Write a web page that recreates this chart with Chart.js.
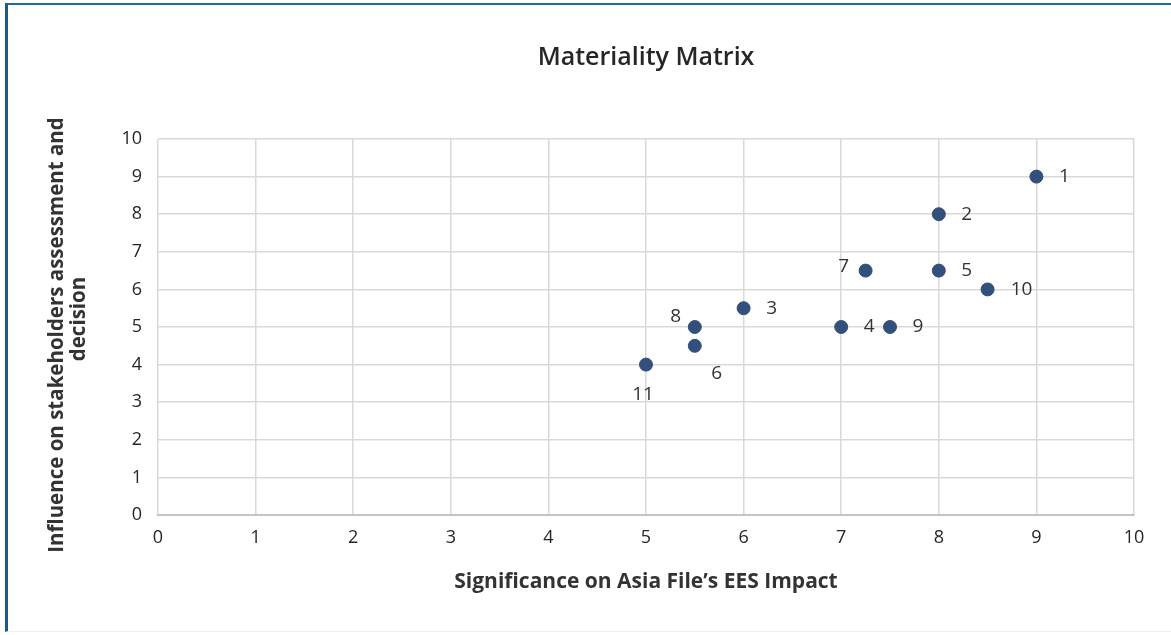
<!DOCTYPE html>
<html>
<head>
<meta charset="utf-8">
<script src="https://cdn.jsdelivr.net/npm/chart.js@4"></script>
<style>
  html, body { margin: 0; padding: 0; background: #fff; }
  #frame {
    position: absolute; left: 5px; top: 3px; width: 1166px; height: 629px;
    border-top: 2px solid #1d6a9c; border-left: 3px solid #1b5a88;
    border-bottom: 1px solid #eeeeee; box-sizing: border-box;
  }
  #wrap { position: absolute; left: 0; top: 0; width: 1171px; height: 635px; }
</style>
</head>
<body>
<div id="frame"></div>
<div id="wrap"><canvas id="chart" width="1171" height="635"></canvas></div>
<script>
// Topic numbers with their scores
const topicLabels = ["1", "2", "3", "4", "5", "6", "7", "8", "9", "10", "11"];
const significance = [9, 8, 6, 7, 8, 5.5, 7.25, 5.5, 7.5, 8.5, 5];
const influence = [9, 8, 5.5, 5, 6.5, 4.5, 6.5, 5, 5, 6, 4];
const tickValues = [0, 1, 2, 3, 4, 5, 6, 7, 8, 9, 10];
const chartTitle = "Materiality Matrix";
const yTitleLines = ["Influence on stakeholders assessment and", "decision"];

// where each number label sits relative to its dot
const labelOffsets = [
  [28, 0], [28, 0], [28, 0], [28, 0], [28, 0], [22, 28],
  [-22, -4], [-19, -10], [28, 0], [34, 0], [-3, 30]
];

const textPlugin = {
  id: "extraText",
  afterDatasetsDraw(chart) {
    const ctx = chart.ctx;
    const meta = chart.getDatasetMeta(0);
    ctx.save();
    ctx.font = "19px 'Open Sans'";
    ctx.fillStyle = "#333333";
    ctx.textAlign = "center";
    ctx.textBaseline = "middle";
    meta.data.forEach((pt, i) => {
      const off = labelOffsets[i];
      ctx.fillText(topicLabels[i], pt.x + off[0], pt.y + off[1]);
    });
    // title centred over the plot area, like the original
    const area = chart.chartArea;
    ctx.font = "600 25px 'Open Sans'";
    ctx.fillStyle = "#262626";
    ctx.fillText(chartTitle, (area.left + area.right) / 2, 58);

    // rotated y axis title, two lines
    ctx.font = "bold 20.5px 'Open Sans'";
    ctx.fillStyle = "#333333";
    ctx.textBaseline = "alphabetic";
    [[63, 335], [85, 319]].forEach((p, i) => {
      ctx.save();
      ctx.translate(p[0], p[1]);
      ctx.rotate(-Math.PI / 2);
      ctx.fillText(yTitleLines[i], 0, 0);
      ctx.restore();
    });
    ctx.restore();
  }
};

const tickFont = { family: "'Open Sans'", size: 18 };

new Chart(document.getElementById("chart"), {
  type: "scatter",
  data: {
    datasets: [{
      data: significance.map((x, i) => ({ x: x, y: influence[i] })),
      backgroundColor: "#334f7c",
      borderColor: "#334f7c",
      pointRadius: 6.5,
      pointHoverRadius: 6.5
    }]
  },
  options: {
    responsive: false,
    animation: false,
    layout: { padding: { left: 0, right: 37, top: 139, bottom: 40 } },
    plugins: {
      legend: { display: false },
      tooltip: { enabled: false },
      title: { display: false }
    },
    scales: {
      x: {
        type: "linear",
        min: 0, max: 10,
        afterBuildTicks: s => { s.ticks = tickValues.map(v => ({ value: v })); },
        afterFit: s => { s.height = 80; },
        ticks: { color: "#262626", font: tickFont, padding: 12 },
        grid: { color: "#d9d9d9", lineWidth: 1.5, drawTicks: false },
        border: { color: "#c4c4c4", width: 2 },
        title: {
          display: true,
          text: "Significance on Asia File\u2019s EES Impact",
          color: "#333333",
          font: { family: "'Open Sans'", size: 21, weight: "bold" },
          padding: { top: 18, bottom: 0 }
        }
      },
      y: {
        type: "linear",
        min: 0, max: 10,
        afterBuildTicks: s => { s.ticks = tickValues.map(v => ({ value: v })); },
        afterFit: s => { s.width = 158; },
        ticks: { color: "#262626", font: tickFont, padding: 16 },
        grid: { color: "#d9d9d9", lineWidth: 1.5, drawTicks: false },
        border: { display: false },
        title: { display: false }
      }
    }
  },
  plugins: [textPlugin]
});
</script>
</body>
</html>
